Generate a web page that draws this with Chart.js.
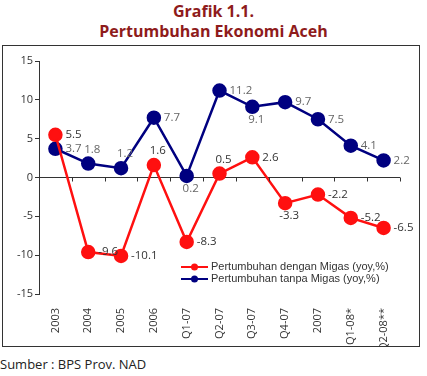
<!DOCTYPE html>
<html>
<head>
<meta charset="utf-8">
<script src="https://cdn.jsdelivr.net/npm/chart.js@4.4.0/dist/chart.umd.min.js"></script>
<style>
  body { margin: 0; background: #fff; width: 427px; height: 376px; position: relative; font-family: "Open Sans", sans-serif; overflow: hidden; }
  .title { position: absolute; left: 0; width: 427px; top: 1px; text-align: center; color: #8e1b1b; font-weight: bold; font-size: 16px; line-height: 20px; }
  .box { position: absolute; left: 2px; top: 45px; width: 416px; height: 300px; border: 1.5px solid #333; }
  .source { position: absolute; left: 0; top: 355px; font-size: 13px; color: #222; }
</style>
</head>
<body>
<div class="title">Grafik 1.1.<br>Pertumbuhan Ekonomi Aceh</div>
<div class="box"><canvas id="growthChart" width="416" height="300"></canvas></div>
<div class="source">Sumber : BPS Prov. NAD</div>
<script>
const periods = ['2003', '2004', '2005', '2006', 'Q1-07', 'Q2-07', 'Q3-07', 'Q4-07', '2007', 'Q1-08*', 'Q2-08**'];
const withOilGas = [5.5, -9.6, -10.1, 1.6, -8.3, 0.5, 2.6, -3.3, -2.2, -5.2, -6.5];
const withoutOilGas = [3.7, 1.8, 1.2, 7.7, 0.2, 11.2, 9.1, 9.7, 7.5, 4.1, 2.2];
const yTicks = [-15, -10, -5, 0, 5, 10, 15];

// where each value label sits next to its point: r = right, t = top, b = below
const labelSide = [
    ['r', 'r', 'r', 't', 'r', 't', 'r', 'b', 'r', 'r', 'r'],
    ['r', 't', 't', 'r', 'b', 'r', 'b', 'r', 'r', 'r', 'r']
];
const labelColor = ['#333', '#666'];

// value labels + legend + little ticks on the zero line
const extras = {
    id: 'extras',
    afterDatasetsDraw(chart) {
        const ctx = chart.ctx;
        const x = chart.scales.x, y = chart.scales.y;
        const y0 = y.getPixelForValue(0);
        ctx.save();
        ctx.strokeStyle = '#333';
        ctx.lineWidth = 1;
        for (let i = 0; i <= periods.length; i++) {
            const px = Math.round(x.getPixelForValue(i - 0.5)) + 0.5;
            ctx.beginPath(); ctx.moveTo(px, y0); ctx.lineTo(px, y0 + 4); ctx.stroke();
        }
        ctx.font = '11.5px "Open Sans", sans-serif';
        chart.data.datasets.forEach((ds, d) => {
            chart.getDatasetMeta(d).data.forEach((pt, i) => {
                const side = labelSide[d][i];
                ctx.fillStyle = labelColor[d];
                ctx.textBaseline = 'middle';
                const txt = ds.data[i].toFixed(1);
                if (side === 'r') {
                    ctx.textAlign = 'left';
                    ctx.fillText(txt, pt.x + 10, pt.y);
                } else if (side === 't') {
                    ctx.textAlign = 'center';
                    ctx.fillText(txt, pt.x + 4, pt.y - 14);
                } else {
                    ctx.textAlign = 'center';
                    ctx.fillText(txt, pt.x + 4, pt.y + 13);
                }
            });
        });
        // legend in lower right of plot
        const lx = chart.chartArea.left + 142, ly = chart.chartArea.bottom - 27;
        ctx.font = '11px "Liberation Sans", Arial, sans-serif';
        chart.data.datasets.forEach((ds, d) => {
            const yy = ly + d * 12;
            ctx.strokeStyle = ds.borderColor;
            ctx.lineWidth = 2;
            ctx.beginPath(); ctx.moveTo(lx, yy); ctx.lineTo(lx + 27, yy); ctx.stroke();
            ctx.fillStyle = ds.borderColor;
            ctx.beginPath(); ctx.arc(lx + 13.5, yy, 3.5, 0, Math.PI * 2); ctx.fill();
            ctx.fillStyle = '#333';
            ctx.textAlign = 'left';
            ctx.textBaseline = 'middle';
            ctx.fillText(ds.label, lx + 30, yy);
        });
        ctx.restore();
    }
};

new Chart(document.getElementById('growthChart'), {
    type: 'line',
    data: {
        labels: periods,
        datasets: [
            { label: 'Pertumbuhan dengan Migas (yoy,%)', data: withOilGas, borderColor: '#ff1010', backgroundColor: '#ff1010', borderWidth: 2.5, pointRadius: 6, pointHoverRadius: 6 },
            { label: 'Pertumbuhan tanpa Migas (yoy,%)', data: withoutOilGas, borderColor: '#000080', backgroundColor: '#000080', borderWidth: 2.5, pointRadius: 6, pointHoverRadius: 6 }
        ]
    },
    options: {
        responsive: false,
        animation: false,
        layout: { padding: { top: 15, right: 19, left: 0, bottom: 0 } },
        plugins: { legend: { display: false }, tooltip: { enabled: false } },
        scales: {
            x: {
                offset: true,
                grid: { display: false },
                border: { display: false },
                ticks: { minRotation: 90, maxRotation: 90, color: '#333', font: { size: 11, family: '"Open Sans", sans-serif' }, padding: 6 },
                afterFit(s) { s.height = 52; }
            },
            y: {
                min: -15, max: 15,
                afterBuildTicks(s) { s.ticks = yTicks.map(v => ({ value: v })); },
                grid: {
                    color: c => c.tick && c.tick.value === 0 ? '#333' : 'transparent',
                    tickColor: '#333', tickLength: 4, lineWidth: 1
                },
                border: { display: true, color: '#333', width: 1 },
                ticks: { color: '#333', font: { size: 11, family: '"Open Sans", sans-serif' }, padding: 2 },
                afterFit(s) { s.width = 36; }
            }
        }
    },
    plugins: [extras]
});
</script>
</body>
</html>
